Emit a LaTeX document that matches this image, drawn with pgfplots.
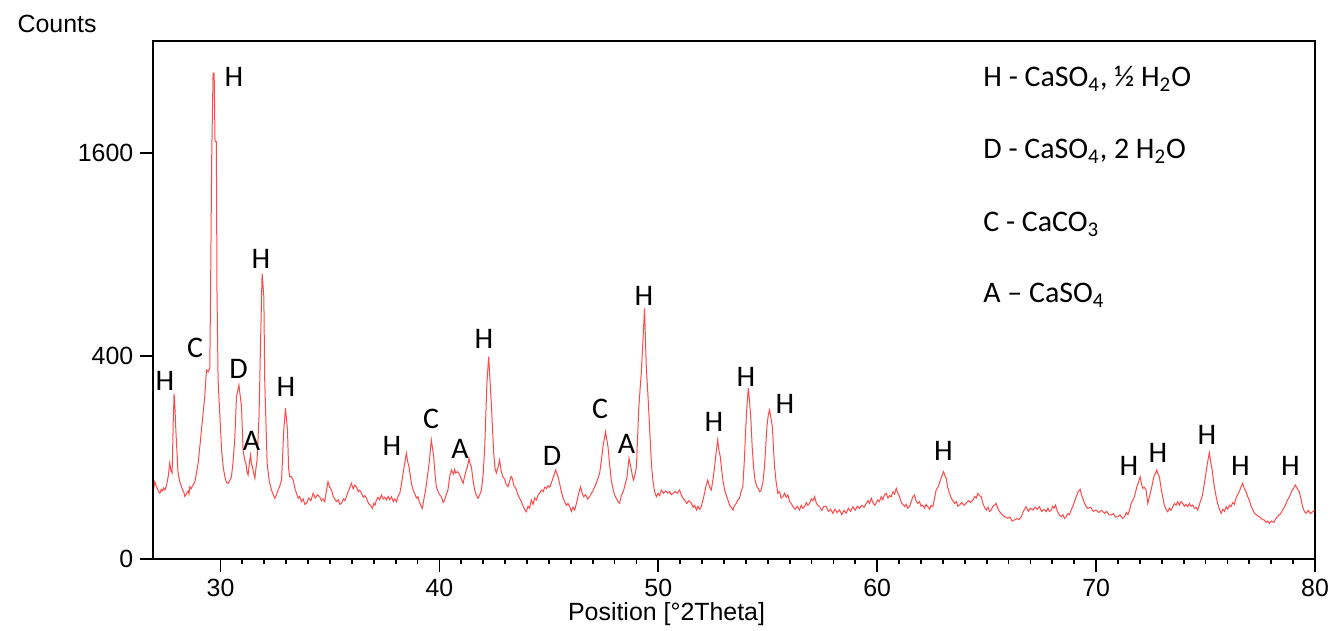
\documentclass[border=0pt]{standalone}
\usepackage{fontspec}
\setmainfont{Liberation Sans}
\newfontfamily\calibri{Carlito}
\usepackage{pgfplots}
\usepackage{pgfplotstable}
\pgfplotsset{compat=1.18}
\definecolor{xrd}{RGB}{255,72,72}
\pgfplotstableread{
x y
26.93 60
26.97 52
27.00 58.0
27.06 52
27.12 48
27.17 44
27.23 41.9
27.29 47
27.35 45
27.40 49
27.46 46.2
27.53 52
27.61 65.7
27.65 78
27.68 88.9
27.74 75
27.79 71.8
27.84 180
27.88 266.5
27.92 220
27.96 161.5
28.06 71.8
28.14 58
28.22 50.7
28.27 46
28.32 44
28.37 38
28.42 39.8
28.47 43
28.52 45
28.56 41
28.60 50.7
28.66 48
28.72 52
28.77 54
28.83 58.0
28.98 88.9
29.13 161.5
29.28 255.7
29.36 346.7
29.44 340
29.51 353
29.54 618
29.60 1584
29.66 2290
29.71 2290
29.75 1690
29.81 1690
29.84 685
29.89 311
30.05 115.3
30.13 80
30.20 65.7
30.27 57
30.35 55.6
30.42 60
30.50 65.7
30.57 90
30.65 137.5
30.73 255.7
30.84 293.9
30.96 225
31.03 115.3
31.10 96
31.16 88.9
31.21 74
31.26 68.5
31.32 90
31.37 105
31.42 86
31.46 82.7
31.52 70
31.57 63.2
31.62 80
31.67 95.1
31.76 196.6
31.84 500
31.90 792
31.98 668
32.02 311
32.13 88.9
32.23 58
32.33 46.2
32.41 40
32.48 35.8
32.56 40
32.63 46.2
32.71 52
32.79 60.6
32.89 161.5
32.97 220.5
33.06 161.5
33.11 80
33.16 65.7
33.24 66
33.32 60.6
33.40 48
33.47 41.9
33.55 36
33.62 38
33.70 31.9
33.78 35
33.85 29
33.93 30.1
34.03 36
34.13 33
34.23 41.9
34.33 36
34.43 40
34.53 37.7
34.61 33
34.68 35
34.76 31.9
34.84 45
34.91 58.0
34.99 50
35.07 46.2
35.15 38
35.22 35
35.30 31.9
35.38 34
35.45 29
35.53 30.1
35.61 35
35.68 33
35.75 37.7
35.83 44
35.90 49
35.98 55.6
36.06 48
36.13 53
36.21 50.7
36.29 44
36.36 46
36.44 41.9
36.52 37
36.59 39
36.67 35.8
36.76 30
36.85 28
36.94 24.9
37.00 30
37.06 28
37.12 33.8
37.20 37
37.27 34
37.35 39.8
37.43 35
37.50 37
37.58 33.8
37.66 38
37.73 34
37.81 37.7
37.89 32
37.96 35
38.04 31.9
38.11 38
38.19 41.9
38.27 55
38.34 71.8
38.42 90
38.49 108.5
38.55 92
38.61 82.7
38.66 70
38.72 55.6
38.80 46
38.87 41.9
38.95 36
39.02 37.7
39.09 31
39.15 28
39.22 24.9
39.30 36
39.37 46.2
39.45 66
39.53 88.9
39.63 137.5
39.74 101.6
39.80 70
39.86 50.7
39.94 44
40.01 40
40.09 37.7
40.17 31
40.24 33.8
40.31 40
40.39 46.2
40.47 66
40.55 76.9
40.64 70
40.69 78
40.74 71.8
40.83 74
40.93 68.5
41.00 62
41.08 55.6
41.15 66
41.23 76.9
41.29 84
41.35 98.4
41.40 88
41.46 82.7
41.53 62
41.61 46.2
41.68 40
41.76 35.8
41.84 40
41.92 46.2
42.00 70
42.07 122.4
42.17 300
42.25 397
42.37 235.3
42.48 108.5
42.54 80
42.60 71.8
42.68 82
42.75 95.1
42.82 75
42.90 65.7
42.98 62
43.05 54
43.13 50.7
43.20 58
43.27 66
43.33 63.2
43.40 52
43.46 50
43.52 46.2
43.59 40
43.66 36
43.74 31.9
43.81 28
43.89 24
43.97 21.7
44.05 27
44.12 25
44.20 33.8
44.28 29
44.35 36
44.43 33.8
44.51 40
44.58 42
44.66 46.2
44.74 44
44.81 50
44.89 48.5
44.96 52
45.04 50
45.11 55.6
45.21 66
45.31 76.9
45.40 68
45.49 55.6
45.57 44
45.65 36
45.72 31.9
45.80 28
45.87 30
45.95 26.6
46.03 22
46.10 26
46.18 23.3
46.26 30
46.33 37.7
46.39 45
46.45 50.7
46.52 42
46.59 37.7
46.68 40
46.77 35
46.86 37.7
46.94 42
47.01 45
47.09 50.7
47.17 56
47.25 64
47.32 71.8
47.40 95
47.47 122.4
47.59 157.3
47.70 122.4
47.78 85
47.85 60.6
47.93 48
48.00 40
48.08 35.8
48.16 32
48.23 30.1
48.30 38
48.36 42
48.42 46.2
48.50 56
48.57 65.7
48.66 98.4
48.77 76.9
48.82 66
48.87 60.6
48.94 70
49.00 82.7
49.11 225
49.22 334.8
49.30 465.6
49.37 610
49.45 359
49.53 255.7
49.63 137.5
49.69 85
49.75 60.6
49.83 44
49.91 37.7
49.99 42
50.06 39
50.14 46.2
50.24 42
50.34 45
50.44 41.9
50.52 44
50.59 40
50.67 41.9
50.77 44
50.87 42
50.97 46.2
51.05 40
51.12 36
51.20 33.8
51.30 30
51.40 33
51.51 30.1
51.59 26
51.66 28
51.74 23.3
51.81 27
51.89 24
51.96 26.6
52.04 34
52.11 41.9
52.18 52
52.26 60.6
52.34 50
52.42 46.2
52.50 62
52.57 82.7
52.64 110
52.71 137.5
52.77 115
52.83 101.6
52.89 78
52.95 60.6
53.03 46
53.10 40
53.18 33.8
53.26 28
53.33 26
53.41 23.3
53.48 28
53.56 30
53.63 33.8
53.71 36
53.78 44
53.86 50.7
53.93 95
53.99 161.5
54.05 230
54.11 282.9
54.17 240
54.23 187.5
54.29 120
54.35 82.7
54.42 60
54.50 50.7
54.57 48
54.63 44
54.70 46.2
54.78 58
54.85 82.7
54.91 125
54.96 169.9
55.02 200
55.08 215.5
55.14 195
55.21 169.9
55.26 120
55.31 82.7
55.38 58
55.46 41.9
55.54 44
55.61 36
55.69 37.7
55.77 42
55.84 37
55.92 39.8
56.00 32
56.07 30
56.15 26.6
56.25 24
56.35 27
56.45 23.3
56.53 28
56.60 25
56.68 26.6
56.76 31
56.83 28
56.91 30.1
56.99 35
57.06 33
57.14 37.7
57.22 30
57.29 28
57.37 26.6
57.47 23
57.57 27
57.67 26.6
57.77 22
57.87 24
57.97 20.3
58.07 24
58.17 21
58.28 23.3
58.38 19
58.48 23
58.58 20.3
58.68 25
58.78 22
58.89 26.6
58.99 23
59.09 27
59.19 24.9
59.29 28
59.40 26
59.50 30.1
59.58 33
59.65 30
59.73 35.8
59.80 31
59.88 28
59.95 30.1
60.03 34
60.10 32
60.18 37.7
60.26 34
60.33 40
60.41 41.9
60.49 36
60.56 39
60.64 37.7
60.72 44
60.79 41
60.87 48.5
60.94 42
61.02 37.7
61.10 31
61.17 29
61.25 26.6
61.32 29
61.40 25
61.47 26.6
61.55 32
61.62 37
61.70 39.8
61.77 33
61.85 30.1
61.93 32
62.00 27
62.08 28.3
62.16 25
62.23 29
62.31 26.6
62.39 24
62.46 28
62.54 26.6
62.62 36
62.69 46.2
62.77 50
62.84 55.6
62.94 66
63.03 74
63.09 68
63.15 63.2
63.22 50
63.30 41.9
63.38 36
63.45 33
63.53 30.1
63.61 32
63.68 27
63.76 28.3
63.86 31
63.96 28
64.06 30.1
64.16 33
64.26 31
64.37 33.8
64.45 38
64.52 36
64.60 41.9
64.67 39
64.75 37.7
64.83 30
64.90 26
64.98 23.3
65.06 26
65.13 22
65.21 23.3
65.28 27
65.36 28
65.43 30.1
65.51 25
65.58 22
65.66 20.3
65.76 18
65.86 17
65.96 16.1
66.06 17
66.16 14
66.27 14.8
66.37 16
66.47 15
66.58 17.4
66.65 21
66.73 24
66.80 26.6
66.90 22
67.00 25
67.11 23.3
67.21 26
67.31 24
67.41 26.6
67.51 22
67.62 24
67.72 21.7
67.80 25
67.87 22
67.95 23.3
68.01 27
68.08 25
68.14 28.3
68.23 22
68.31 19
68.40 17.4
68.48 19
68.55 16
68.63 17.4
68.71 20
68.78 19
68.86 23.3
68.94 27
69.01 32
69.09 37.7
69.18 44
69.27 47.2
69.33 40
69.39 35.8
69.47 30
69.54 27
69.62 24.9
69.75 26
69.87 22
70.00 23.3
70.13 21
70.25 23
70.38 20.3
70.48 22
70.59 19
70.69 18.8
70.79 20
70.89 17
70.99 17.4
71.09 19
71.20 16
71.30 17.4
71.38 21
71.45 19
71.53 23.3
71.60 30
71.68 34
71.75 37.7
71.86 50.7
71.94 58
72.01 65.7
72.07 55
72.13 48.5
72.20 50
72.28 46.2
72.36 30.1
72.44 38
72.51 46.2
72.59 58
72.66 68.5
72.72 72
72.77 76.9
72.83 70
72.89 65.7
72.97 48
73.04 37.7
73.12 28
73.19 24
73.27 21.7
73.35 25
73.42 23
73.50 26.6
73.58 30
73.65 28
73.73 31.9
73.80 28
73.88 32
73.95 30.1
74.03 27
74.10 29
74.18 26.6
74.26 30
74.33 27
74.41 28.3
74.49 25
74.56 26
74.64 23.3
74.71 28
74.77 33
74.84 37.7
74.92 50
74.99 65.7
75.08 88
75.17 109.7
75.24 90
75.30 76.9
75.35 62
75.40 50.7
75.48 38
75.55 30.1
75.63 24
75.71 20.3
75.79 24
75.86 22
75.94 26.6
76.01 24
76.09 28
76.16 26.6
76.24 31
76.31 29
76.39 35.8
76.46 40
76.54 44
76.61 50
76.69 55.6
76.77 48
76.85 44
76.92 38
77.00 33.8
77.08 27
77.15 24
77.23 20.3
77.31 19
77.38 18
77.46 17.4
77.53 16
77.61 15
77.68 14.8
77.76 13
77.84 14
77.91 12.4
78.01 14
78.12 13
78.22 16.1
78.32 18
78.42 20
78.52 23.3
78.62 27
78.73 33
78.83 37.7
78.92 44
79.01 48
79.10 53.2
79.19 48
79.28 44
79.36 35
79.43 26.6
79.51 22
79.59 20.3
79.69 23
79.79 20
79.89 21.7
79.97 23
}\xrddata
\begin{document}
\begin{tikzpicture}
\begin{axis}[
  width=580.85bp, height=259.15bp, scale only axis,
  xmin=26.93, xmax=80, ymin=0, ymax=51.06,
  xtick=\empty, ytick=\empty,
  every axis/.append style={line width=1bp},
  xlabel={Position [°2Theta]},
  xlabel style={font=\fontsize{12.5}{15}\selectfont, at={(axis description cs:0.4418,0)}, anchor=base, yshift=-30.5bp},
  ylabel={Counts},
  ylabel style={font=\fontsize{12.5}{15}\selectfont, rotate=-90, at={(axis description cs:-0.1234,1.0149)}, anchor=base west},
]
\addplot[xrd, line width=0.5bp] table[x=x, y expr={sqrt(\thisrow{y})}] {\xrddata};
\end{axis}
\begin{axis}[
  width=580.85bp, height=259.15bp, scale only axis,
  xmin=26.93, xmax=80, ymin=0, ymax=51.06,
  xtick={30,40,50,60,70,80}, minor x tick num=9,
  ytick={0,20,40}, yticklabels={0,400,1600},
  tick align=outside, tick pos=left,
  major tick length=6.5bp, minor tick length=2.5bp,
  tick style={black, line width=0.9bp},
  tick label style={font=\fontsize{12.5}{15}\selectfont},
  /pgf/number format/assume math mode=true,
]
\end{axis}
\begin{scope}[x=0.5bp, y=-0.5bp, shift={(-76.65bp,279.5bp)}]
  \pgfresetboundingbox
  \path[use as bounding box] (0,0) rectangle (1331,631);
  \begin{scope}[every node/.style={font=\calibri\fontsize{15}{18}\selectfont, inner sep=0pt}]
    \node at (165,381) {H};
    \node at (195,347.5) {C};
    \node at (234,77) {H};
    \node at (238.5,369) {D};
    \node at (251.5,440.5) {A};
    \node at (261,258.5) {H};
    \node at (286,387) {H};
    \node at (392,446) {H};
    \node at (431,418.5) {C};
    \node at (460,449) {A};
    \node at (484,339) {H};
    \node at (552,456) {D};
    \node at (600,408.5) {C};
    \node at (626.5,444) {A};
    \node at (644,295.5) {H};
    \node at (714,422) {H};
    \node at (746,377) {H};
    \node at (785,404) {H};
    \node at (943.5,451) {H};
    \node at (1129,466) {H};
    \node at (1158,452.5) {H};
    \node at (1207,434.5) {H};
    \node at (1240.5,466) {H};
    \node at (1290.5,466) {H};
  \end{scope}
  \begin{scope}[every node/.style={font=\calibri\fontsize{15}{18}\selectfont, inner sep=0pt, anchor=base west}]
    \node at (983,87) {H - CaSO\textsubscript{4}, ½ H\textsubscript{2}O};
    \node at (983,159) {D - CaSO\textsubscript{4}, 2 H\textsubscript{2}O};
    \node at (983,232) {C - CaCO\textsubscript{3}};
    \node at (983,303) {A – CaSO\textsubscript{4}};
  \end{scope}
\end{scope}
\end{tikzpicture}
\end{document}
